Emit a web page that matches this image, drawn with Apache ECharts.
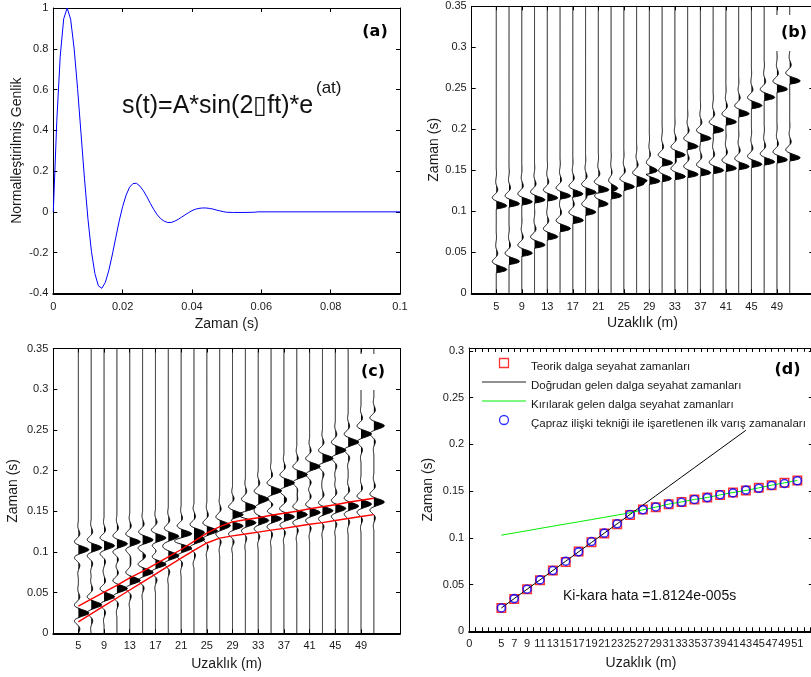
<!DOCTYPE html>
<html><head><meta charset="utf-8">
<script src="https://cdn.jsdelivr.net/npm/echarts@6/dist/echarts.min.js"></script>
<style>html,body{margin:0;padding:0;background:#fff}#c{width:811px;height:677px}</style>
</head><body><div id="c"></div>
<script>
// ---------- DATA ----------
// (a) source wavelet
const waveletTime = [0,0.001,0.002,0.003,0.004,0.005,0.006,0.007,0.008,0.009,0.010,0.011,0.012,0.013,0.014,0.015,0.016,0.017,0.018,0.019,0.020,0.021,0.022,0.023,0.024,0.025,0.026,0.027,0.028,0.029,0.030,0.031,0.032,0.033,0.034,0.035,0.036,0.037,0.038,0.039,0.040,0.041,0.042,0.043,0.044,0.045,0.046,0.047,0.048,0.049,0.050,0.052,0.055,0.058,0.059,0.100];
const waveletAmp = [0,0.444,0.763,0.947,1.0,0.945,0.803,0.605,0.383,0.162,-0.036,-0.194,-0.303,-0.363,-0.375,-0.346,-0.288,-0.212,-0.128,-0.045,0.026,0.082,0.121,0.139,0.140,0.126,0.103,0.074,0.041,0.011,-0.015,-0.034,-0.046,-0.052,-0.052,-0.046,-0.037,-0.026,-0.015,-0.004,0.006,0.013,0.017,0.019,0.019,0.017,0.014,0.009,0.005,0.001,-0.002,-0.003,-0.003,-0.002,0,0];
// (c) cross-correlation pulse shape (lag in s)
const corrLag = [-0.035,-0.034,-0.033,-0.032,-0.031,-0.030,-0.029,-0.028,-0.027,-0.026,-0.025,-0.024,-0.023,-0.022,-0.021,-0.020,-0.019,-0.018,-0.017,-0.016,-0.015,-0.014,-0.013,-0.012,-0.011,-0.010,-0.009,-0.008,-0.007,-0.006,-0.005,-0.004,-0.003,-0.002,-0.001,0,0.001,0.002,0.003,0.004,0.005,0.006,0.007,0.008,0.009,0.010,0.011,0.012,0.013,0.014,0.015,0.016,0.017,0.018,0.019,0.020,0.021,0.022,0.023,0.024,0.025,0.026,0.027,0.028,0.029,0.030,0.031,0.032,0.033,0.034,0.035];
const corrAmp = [-0.003,-0.014,-0.026,-0.037,-0.046,-0.052,-0.052,-0.046,-0.034,-0.013,0.013,0.043,0.075,0.104,0.127,0.139,0.138,0.118,0.080,0.023,-0.048,-0.130,-0.214,-0.290,-0.348,-0.374,-0.361,-0.299,-0.188,-0.028,0.171,0.391,0.614,0.810,0.948,1.0,0.948,0.810,0.614,0.391,0.171,-0.028,-0.188,-0.299,-0.361,-0.374,-0.348,-0.290,-0.214,-0.130,-0.048,0.023,0.080,0.118,0.138,0.139,0.127,0.104,0.075,0.043,0.013,-0.013,-0.034,-0.046,-0.052,-0.052,-0.046,-0.037,-0.026,-0.014,-0.003];
// receivers (m) and travel times (s)
const offsets = [5,7,9,11,13,15,17,19,21,23,25,27,29,31,33,35,37,39,41,43,45,47,49,51];
const directTimes = [0.025,0.035,0.045,0.055,0.065,0.075,0.085,0.095,0.105,0.115,0.125,0.135,0.145,0.155,0.165,0.175,0.185,0.195,0.205,0.215,0.225,0.235,0.245,0.255];
const refractedTimes = [0.1028,0.1052,0.1076,0.1100,0.1124,0.1148,0.1171,0.1195,0.1219,0.1243,0.1267,0.1300,0.1328,0.1360,0.1384,0.1410,0.1431,0.1459,0.1485,0.1506,0.1534,0.1563,0.1588,0.1613];
const theoreticalTimes = [0.025,0.0346,0.045,0.0546,0.065,0.0742,0.0853,0.0953,0.1046,0.1146,0.1245,0.1303,0.1328,0.1360,0.1384,0.1410,0.1431,0.1459,0.1485,0.1506,0.1534,0.1563,0.1588,0.1613];
const pickedTimes = [0.025,0.035,0.045,0.055,0.065,0.075,0.085,0.096,0.105,0.115,0.125,0.130,0.133,0.136,0.138,0.141,0.143,0.146,0.148,0.151,0.153,0.156,0.158,0.161];
const directLineOffsets = [5,7,9,11,13,15,17,19,21,23,25,27,29,31,33,35,37,39,41,43];
const directLineTimes = [0.025,0.035,0.045,0.055,0.065,0.075,0.085,0.095,0.105,0.115,0.125,0.135,0.145,0.155,0.165,0.175,0.185,0.195,0.205,0.215];
const windowUpper = [0.0335,0.042,0.0505,0.059,0.068,0.076,0.085,0.094,0.103,0.113,0.123,0.131,0.137,0.1395,0.142,0.145,0.1475,0.150,0.153,0.1555,0.158,0.161,0.1635,0.166];
const windowLower = [0.014,0.0238,0.0336,0.0434,0.0532,0.063,0.0728,0.0826,0.0924,0.102,0.111,0.117,0.1197,0.122,0.1244,0.1268,0.129,0.1315,0.134,0.136,0.1387,0.141,0.1435,0.1458];
// tick labels
const aXTicks = [0,0.02,0.04,0.06,0.08,0.1];
const aYTicks = [-0.4,-0.2,0,0.2,0.4,0.6,0.8,1];
const traceTicks = [5,9,13,17,21,25,29,33,37,41,45,49];
const timeTicks = [0,0.05,0.1,0.15,0.2,0.25,0.3,0.35];
const dXLabels = [0,5,7,9,11,13,15,17,19,21,23,25,27,29,31,33,35,37,39,41,43,45,47,49,51];
const dYTicks = [0,0.05,0.1,0.15,0.2,0.25,0.3];
const legendNames = ['Teorik dalga seyahat zamanları','Doğrudan gelen dalga seyahat zamanları','Kırılarak gelen dalga seyahat zamanları','Çapraz ilişki tekniği ile işaretlenen ilk varış zamanaları'];

// ---------- helpers ----------
const FONT = '"Liberation Sans", Arial, Helvetica, sans-serif';
const AX = '#000', TXT = '#1a1a1a';
function interp(xs, ys, x) {
  if (x < xs[0] || x > xs[xs.length - 1]) return 0;
  let lo = 0, hi = xs.length - 1;
  while (hi - lo > 1) { const m = (lo + hi) >> 1; if (xs[m] <= x) lo = m; else hi = m; }
  const d = xs[hi] - xs[lo];
  return d ? ys[lo] + (x - xs[lo]) / d * (ys[hi] - ys[lo]) : ys[lo];
}
const tGrid = []; for (let k = 0; k <= 700; k++) tGrid.push(k * 0.0005);
function buildTraces(px, py) {
  return offsets.map((x, i) => {
    const a = tGrid.map(t => interp(px, py, t - directTimes[i]) + interp(px, py, t - refractedTimes[i]));
    let m = 0; a.forEach(v => { if (Math.abs(v) > m) m = Math.abs(v); });
    return a.map(v => v / m);
  });
}
const tracesB = buildTraces(waveletTime, waveletAmp);
const tracesC = buildTraces(corrLag, corrAmp);
const AMP = 1.65;
function traceRenderer(traces) {
  return function (params, api) {
    const i = params.dataIndex, x0 = offsets[i], tr = traces[i];
    const line = [], fill = [];
    for (let k = 0; k < tGrid.length; k++) {
      line.push(api.coord([x0 + AMP * tr[k], tGrid[k]]));
      fill.push(api.coord([x0 + AMP * Math.max(tr[k], 0), tGrid[k]]));
    }
    fill.push(api.coord([x0, tGrid[tGrid.length - 1]]));
    fill.push(api.coord([x0, tGrid[0]]));
    return { type: 'group', children: [
      { type: 'polygon', shape: { points: fill }, style: { fill: '#000', stroke: null } },
      { type: 'polyline', shape: { points: line }, style: { stroke: '#000', lineWidth: 1, fill: null } }
    ]};
  };
}
const nameStyle = { fontFamily: FONT, fontSize: 14, color: TXT };
const labelBase = { fontFamily: FONT, fontSize: 11, color: TXT };
function fmt(v) { return String(Math.round(v * 10000) / 10000); }

function xAx(grid, min, max, pos, ticks, labels, extra) {
  const o = {
    type: 'value', gridIndex: grid, min: min, max: max, position: pos,
    axisLine: { show: true, onZero: false, lineStyle: { color: AX, width: pos === 'bottom' ? 2 : 1 } },
    axisTick: { show: true, inside: true, length: 4, customValues: ticks, lineStyle: { color: AX, width: 1 } },
    axisLabel: labels ? Object.assign({ show: true, customValues: labels, formatter: fmt, margin: 8 }, labelBase) : { show: false },
    splitLine: { show: false }, minorTick: { show: false }, minorSplitLine: { show: false }
  };
  return Object.assign(o, extra || {});
}
function yAx(grid, min, max, pos, ticks, labels, extra) {
  const o = {
    type: 'value', gridIndex: grid, min: min, max: max, position: pos,
    axisLine: { show: true, onZero: false, lineStyle: { color: AX, width: 1 } },
    axisTick: { show: true, inside: true, length: 4, customValues: ticks, lineStyle: { color: AX, width: 1 } },
    axisLabel: labels ? Object.assign({ show: true, customValues: labels, formatter: fmt, margin: 5 }, labelBase) : { show: false },
    splitLine: { show: false }, minorTick: { show: false }, minorSplitLine: { show: false }
  };
  return Object.assign(o, extra || {});
}
const dXTicks = []; for (let v = 0; v <= 53; v++) dXTicks.push(v);

const xAxis = [
  xAx(0, 0, 0.1, 'bottom', aXTicks, aXTicks, { name: 'Zaman (s)', nameLocation: 'middle', nameGap: 24, nameTextStyle: nameStyle }),
  xAx(0, 0, 0.1, 'top', aXTicks, null),
  xAx(1, 1.15, 54.7, 'bottom', traceTicks, traceTicks, { name: 'Uzaklık (m)', nameLocation: 'middle', nameGap: 23, nameTextStyle: nameStyle }),
  xAx(1, 1.15, 54.7, 'top', traceTicks, null),
  xAx(2, 1.1, 55.07, 'bottom', traceTicks, traceTicks, { name: 'Uzaklık (m)', nameLocation: 'middle', nameGap: 24, nameTextStyle: nameStyle }),
  xAx(2, 1.1, 55.07, 'top', traceTicks, null),
  xAx(3, 0, 53.4, 'bottom', dXTicks, dXLabels, { name: 'Uzaklık (m)', nameLocation: 'middle', nameGap: 25, nameTextStyle: nameStyle }),
  xAx(3, 0, 53.4, 'top', dXTicks, null)
];
xAxis[4].axisLabel.margin = 7; xAxis[6].axisLabel.margin = 7;
const yAxis = [
  yAx(0, -0.4, 1, 'left', aYTicks, aYTicks, { name: 'Normalleştirilmiş Genlik', nameLocation: 'middle', nameGap: 29, nameTextStyle: nameStyle }),
  yAx(0, -0.4, 1, 'right', aYTicks, null),
  yAx(1, 0, 0.35, 'left', timeTicks, timeTicks, { name: 'Zaman (s)', nameLocation: 'middle', nameGap: 30, nameTextStyle: nameStyle }),
  yAx(1, 0, 0.35, 'right', timeTicks, null),
  yAx(2, 0, 0.35, 'left', timeTicks, timeTicks, { name: 'Zaman (s)', nameLocation: 'middle', nameGap: 33, nameTextStyle: nameStyle }),
  yAx(2, 0, 0.35, 'right', timeTicks, null),
  yAx(3, 0, 0.303, 'left', dYTicks, dYTicks, { name: 'Zaman (s)', nameLocation: 'middle', nameGap: 34, nameTextStyle: nameStyle }),
  yAx(3, 0, 0.303, 'right', dYTicks, null)
];

const zip = (a, b) => a.map((v, i) => [v, b[i]]);
const labelBox = (x, y, t) => ({
  type: 'text', x: x, y: y, z: 100,
  style: { text: t, font: 'bold 16px "DejaVu Sans", sans-serif', fill: '#000', align: 'center', verticalAlign: 'middle', textAlign: 'center', textVerticalAlign: 'middle', backgroundColor: '#fff', padding: [10, 7] }
});
const LINE_ICON = 'path://M0,0L44,0L44,1L0,1Z';

const option = {
  backgroundColor: '#fff',
  animation: false,
  grid: [
    { left: 53.3, top: 8, width: 346.7, height: 285.4, outerBoundsMode: 'none', containLabel: false },
    { left: 471.7, top: 6.3, width: 341.6, height: 287, outerBoundsMode: 'none', containLabel: false },
    { left: 53.3, top: 348.5, width: 346.7, height: 284.8, outerBoundsMode: 'none', containLabel: false },
    { left: 469.2, top: 348, width: 343.6, height: 283.3, outerBoundsMode: 'none', containLabel: false }
  ],
  xAxis: xAxis,
  yAxis: yAxis,
  legend: {
    orient: 'vertical', left: 482, top: 353.5, itemWidth: 44, itemHeight: 9, itemGap: 0,
    selectedMode: false, padding: 0,
    formatter: function (n) { return '{t|' + n + '}'; },
    textStyle: { fontFamily: FONT, fontSize: 11.5, color: TXT,
      rich: { t: { fontFamily: FONT, fontSize: 11.5, color: TXT, lineHeight: 11.5, padding: [7, 0, 0, 0] } } },
    data: [
      { name: legendNames[0], icon: 'path://M0,0L10,0L10,10L0,10Z', itemStyle: { color: 'rgba(0,0,0,0)', borderColor: '#ff0000', borderWidth: 1.3 } },
      { name: legendNames[1], icon: LINE_ICON, itemStyle: { color: '#222', borderWidth: 0 } },
      { name: legendNames[2], icon: LINE_ICON, itemStyle: { color: '#00ee00', borderWidth: 0 } },
      { name: legendNames[3], icon: 'circle', itemStyle: { color: 'rgba(0,0,0,0)', borderColor: '#0000ff', borderWidth: 1.3 } }
    ]
  },
  series: [
    { type: 'line', xAxisIndex: 0, yAxisIndex: 0, data: zip(waveletTime, waveletAmp), symbol: 'none', lineStyle: { color: '#0000ff', width: 1 }, silent: true },
    { type: 'custom', xAxisIndex: 2, yAxisIndex: 2, data: offsets.map(x => [x, 0.175]), renderItem: traceRenderer(tracesB), silent: true, z: 2 },
    { type: 'custom', xAxisIndex: 4, yAxisIndex: 4, data: offsets.map(x => [x, 0.175]), renderItem: traceRenderer(tracesC), silent: true, clip: true, z: 2 },
    { type: 'line', xAxisIndex: 4, yAxisIndex: 4, data: zip(offsets, windowUpper), symbol: 'none', lineStyle: { color: '#ff0000', width: 1.4 }, silent: true, z: 5 },
    { type: 'line', xAxisIndex: 4, yAxisIndex: 4, data: zip(offsets, windowLower), symbol: 'none', lineStyle: { color: '#ff0000', width: 1.4 }, silent: true, z: 5 },
    { name: legendNames[0], type: 'scatter', xAxisIndex: 6, yAxisIndex: 6, data: zip(offsets, theoreticalTimes), symbol: 'rect', symbolSize: 8.5, itemStyle: { color: 'rgba(0,0,0,0)', borderColor: '#ff0000', borderWidth: 1.5 }, silent: true, z: 2 },
    { name: legendNames[1], type: 'line', xAxisIndex: 6, yAxisIndex: 6, data: zip(directLineOffsets, directLineTimes), symbol: 'none', lineStyle: { color: '#000', width: 1 }, itemStyle: { color: '#000' }, silent: true, z: 3 },
    { name: legendNames[2], type: 'line', xAxisIndex: 6, yAxisIndex: 6, data: zip(offsets, refractedTimes), symbol: 'none', lineStyle: { color: '#00ee00', width: 1 }, itemStyle: { color: '#00ee00' }, silent: true, z: 4 },
    { name: legendNames[3], type: 'scatter', xAxisIndex: 6, yAxisIndex: 6, data: zip(offsets, pickedTimes), symbol: 'circle', symbolSize: 8, itemStyle: { color: 'rgba(0,0,0,0)', borderColor: '#0000ff', borderWidth: 1.6 }, silent: true, z: 5 }
  ],
  graphic: [
    { type: 'text', x: 122, y: 106, z: 100, style: { text: 's(t)=A*sin(2\u25AFft)*e', font: '25px ' + FONT, fill: '#111', align: 'left', verticalAlign: 'middle', textAlign: 'left', textVerticalAlign: 'middle' } },
    { type: 'text', x: 316, y: 88, z: 100, style: { text: '(at)', font: '17px ' + FONT, fill: '#111', align: 'left', verticalAlign: 'middle', textAlign: 'left', textVerticalAlign: 'middle' } },
    { type: 'text', x: 563, y: 596, z: 100, style: { text: 'Ki-kara hata =1.8124e-005s', font: '14px ' + FONT, fill: '#111', align: 'left', verticalAlign: 'middle', textAlign: 'left', textVerticalAlign: 'middle' } },
    labelBox(375, 32, '(a)'),
    labelBox(794, 33, '(b)'),
    labelBox(373, 372, '(c)'),
    labelBox(787.5, 369.7, '(d)')
  ]
};
const chart = echarts.init(document.getElementById('c'), null, { renderer: 'canvas', width: 811, height: 677 });
chart.setOption(option);
</script>
</body></html>
